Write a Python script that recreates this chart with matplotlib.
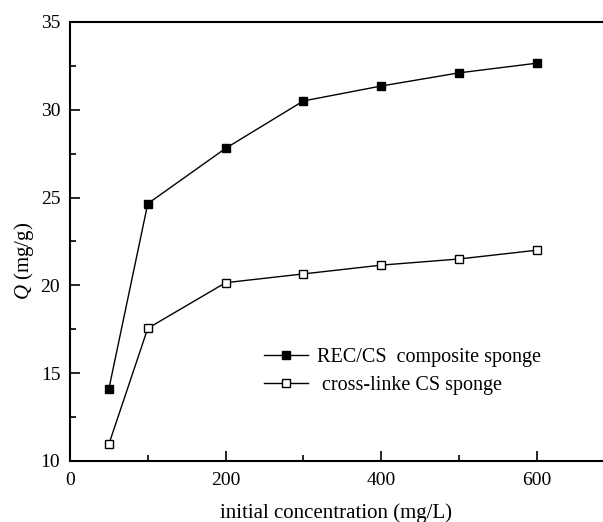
import matplotlib
matplotlib.use("Agg")
import matplotlib.pyplot as plt
from matplotlib.ticker import MultipleLocator

# Data
conc = [50, 100, 200, 300, 400, 500, 600]
q_composite = [14.1, 24.65, 27.8, 30.5, 31.35, 32.1, 32.65]
q_crosslinked = [10.95, 17.55, 20.15, 20.65, 21.15, 21.5, 22.0]
labels = ["REC/CS  composite sponge", " cross-linke CS sponge"]

plt.rcParams['font.family'] = ['Liberation Serif', 'DejaVu Serif']
plt.rcParams['mathtext.fontset'] = 'custom'
plt.rcParams['mathtext.it'] = 'Liberation Serif:italic'
plt.rcParams['mathtext.rm'] = 'Liberation Serif'

fig = plt.figure(figsize=(6.03, 5.22), dpi=100)
ax = fig.add_axes([0.116, 0.117, 0.884, 0.841])

ax.plot(conc, q_composite, color='black', lw=1, marker='s', ms=6,
        mfc='black', mec='black', label=labels[0])
ax.plot(conc, q_crosslinked, color='black', lw=1, marker='s', ms=6,
        mfc='white', mec='black', mew=1, label=labels[1])

ax.set_xlim(0, 685)
ax.set_ylim(10, 35)
ax.xaxis.set_major_locator(MultipleLocator(200))
ax.xaxis.set_minor_locator(MultipleLocator(100))
ax.yaxis.set_major_locator(MultipleLocator(5))
ax.yaxis.set_minor_locator(MultipleLocator(2.5))
ax.tick_params(which='both', direction='in', top=False, right=False, labelsize=14, width=1.2)
ax.tick_params(axis='x', pad=8)
ax.tick_params(axis='y', pad=7)
ax.tick_params(which='major', length=7)
ax.tick_params(which='minor', length=4)

ax.spines['right'].set_visible(False)
for s in ['left', 'bottom', 'top']:
    ax.spines[s].set_linewidth(1.5)

ax.set_xlabel("initial concentration (mg/L)", fontsize=15, labelpad=10)
ax.set_ylabel(r"$Q$ (mg/g)", fontsize=15)
ax.yaxis.set_label_coords(-0.064, 0.455)

ax.legend(loc='lower left', bbox_to_anchor=(0.33, 0.108), frameon=False,
          fontsize=14.5, handlelength=2.2, handletextpad=0.45, labelspacing=0.45)

plt.savefig("out.png", dpi=100)
plt.close()
